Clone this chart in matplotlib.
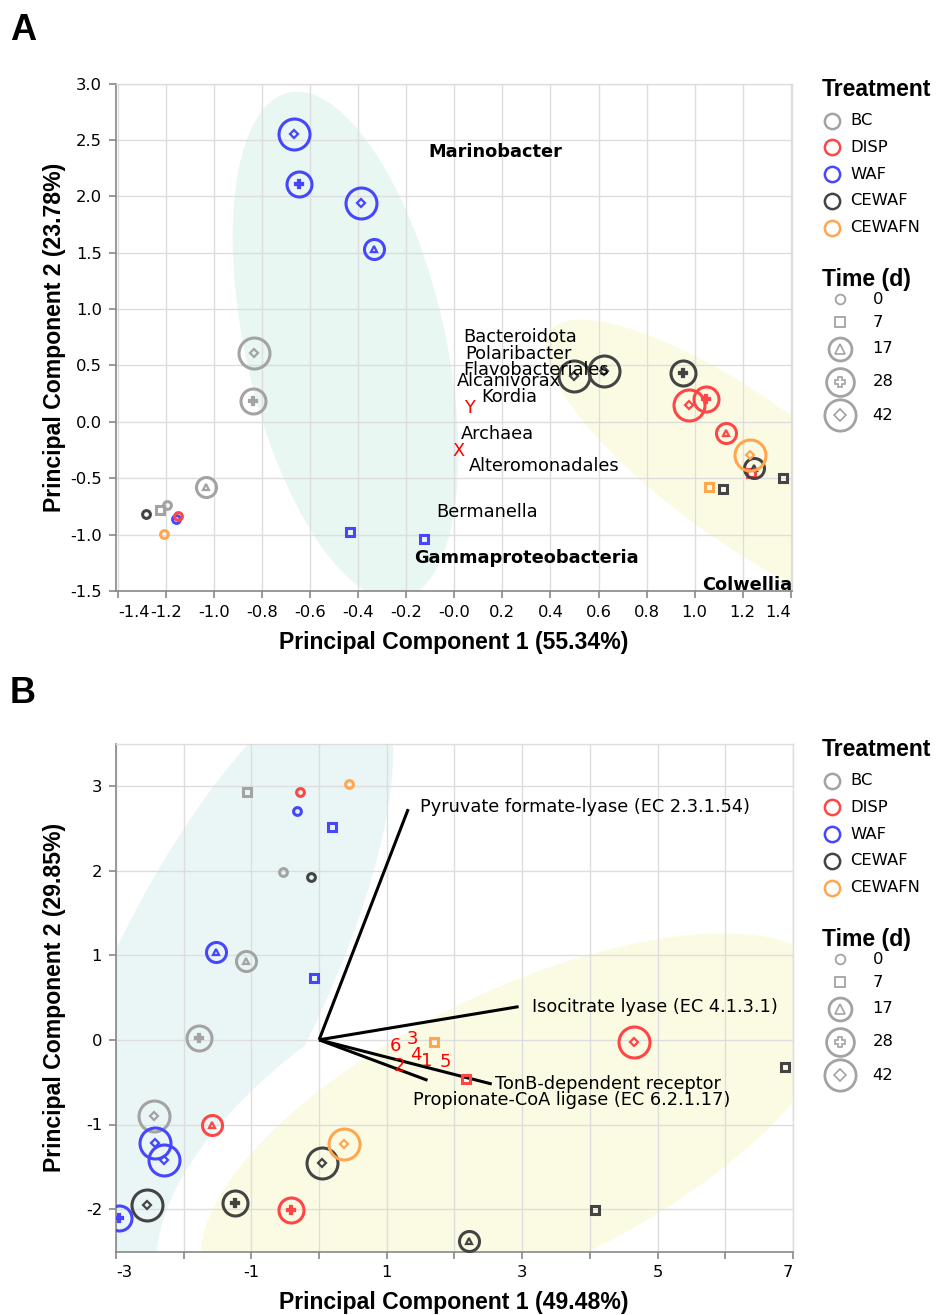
import numpy as np
import matplotlib
matplotlib.use("Agg")
import matplotlib.pyplot as plt
from matplotlib import font_manager

plt.rcParams['axes.unicode_minus'] = False
plt.rcParams['font.family'] = ['DejaVu Sans']

#%% colours / categories
treatments = ["BC", "DISP", "WAF", "CEWAF", "CEWAFN"]
treat_colors = ["#a3a3a3", "#ff4545", "#4646ff", "#444444", "#ffa64f"]
times = [0, 7, 17, 28, 42]

#%% panel A data (taxa PCA)
treat_a = ["WAF", "WAF", "WAF", "WAF", "WAF", "WAF", "WAF",
           "BC", "BC", "BC", "BC", "BC",
           "DISP", "DISP", "DISP", "DISP", "DISP",
           "CEWAF", "CEWAF", "CEWAF", "CEWAF", "CEWAF", "CEWAF", "CEWAF",
           "CEWAFN", "CEWAFN", "CEWAFN"]
time_a = [42, 28, 42, 17, 7, 7, 0,
          42, 28, 17, 7, 0,
          0, 42, 28, 17, 7,
          0, 42, 42, 28, 17, 7, 7,
          0, 42, 7]
pc1_a = [-0.669, -0.647, -0.387, -0.335, -0.435, -0.125, -1.160,
         -0.834, -0.837, -1.032, -1.225, -1.197,
         -1.150, 0.978, 1.047, 1.129, 1.236,
         -1.284, 0.496, 0.621, 0.953, 1.247, 1.117, 1.369,
         -1.208, 1.230, 1.061]
pc2_a = [2.553, 2.109, 1.937, 1.533, -0.979, -1.038, -0.860,
         0.611, 0.181, -0.576, -0.786, -0.741,
         -0.836, 0.145, 0.202, -0.098, -0.457,
         -0.816, 0.403, 0.454, 0.430, -0.407, -0.593, -0.495,
         -0.999, -0.297, -0.575]

taxa_names = ["Marinobacter", "Gammaproteobacteria", "Colwellia",
              "Bacteroidota", "Polaribacter", "Flavobacteriales", "Alcanivorax",
              "Kordia", "Archaea", "Alteromonadales", "Bermanella"]
taxa_x = [-0.108, -0.166, 1.405, 0.036, 0.046, 0.039, 0.011, 0.111, 0.028, 0.059, -0.075]
taxa_y = [2.393, -1.207, -1.450, 0.750, 0.603, 0.460, 0.359, 0.222, -0.104, -0.391, -0.801]
taxa_bold = [True, True, True, False, False, False, False, False, False, False, False]
red_marks_a = ["Y", "X"]
red_marks_a_x = [0.064, 0.018]
red_marks_a_y = [0.127, -0.258]

#%% panel B data (function PCA)
treat_b = ["BC", "BC", "BC", "BC", "BC",
           "DISP", "DISP", "DISP", "DISP", "DISP",
           "WAF", "WAF", "WAF", "WAF", "WAF", "WAF", "WAF",
           "CEWAF", "CEWAF", "CEWAF", "CEWAF", "CEWAF", "CEWAF", "CEWAF",
           "CEWAFN", "CEWAFN", "CEWAFN"]
time_b = [7, 0, 17, 28, 42,
          0, 17, 28, 42, 7,
          0, 7, 7, 17, 42, 42, 28,
          0, 42, 28, 42, 17, 7, 7,
          0, 42, 7]
pc1_b = [-1.069, -0.539, -1.083, -1.778, -2.442,
         -0.275, -1.579, -0.419, 4.650, 2.164,
         -0.321, 0.189, -0.069, -1.527, -2.428, -2.295, -2.959,
         -0.121, -2.541, -1.235, 0.037, 2.217, 4.072, 6.889,
         0.442, 0.375, 1.700]
pc2_b = [2.929, 1.988, 0.933, 0.016, -0.894,
         2.933, -1.000, -2.012, -0.028, -0.459,
         2.702, 2.518, 0.733, 1.035, -1.216, -1.420, -2.106,
         1.918, -1.949, -1.922, -1.451, -2.373, -2.008, -0.322,
         3.020, -1.227, -0.031]

enzymes = ["Pyruvate formate-lyase (EC 2.3.1.54)", "Isocitrate lyase (EC 4.1.3.1)",
           "TonB-dependent receptor", "Propionate-CoA ligase (EC 6.2.1.17)"]
load_x = [1.316, 2.947, 2.550, 1.601]
load_y = [2.725, 0.392, -0.522, -0.478]
enz_label_x = [1.489, 3.139, 2.595, 1.389]
enz_label_y = [2.753, 0.392, -0.522, -0.706]
num_labels = ["6", "3", "4", "1", "5", "2"]
num_x = [1.124, 1.383, 1.423, 1.582, 1.866, 1.190]
num_y = [-0.078, 0.008, -0.176, -0.255, -0.267, -0.306]

# ellipses: centre, semi-axis vector 1, semi-axis vector 2 (data units)
ell_a = [((-0.453, 0.676), (-0.237, 2.242), (0.405, 0.197), "#e8f7f1"),
         ((1.209, -0.436), (0.813, -1.237), (-0.173, -0.522), "#fbfbe3")]
ell_b = [((-1.545, 0.600), (2.232, 3.649), (1.408, -0.546), "#eaf6f6"),
         ((2.968, -1.067), (4.629, 1.793), (0.903, -1.479), "#fbfbe3")]

GRID = "#dddddd"
AXC = "#888888"

# bold condensed title font (fall back to plain Liberation Sans bold)
fnames = {f.name for f in font_manager.fontManager.ttflist}
if 'Liberation Sans Narrow' in fnames:
    TITLE = dict(family='Liberation Sans Narrow', fontweight='bold', fontsize=20)
else:
    TITLE = dict(family='Liberation Sans', fontweight='bold', fontsize=16.6)

outer_ms = {17: 14.4, 28: 18.0, 42: 22.3}
inner_mk = {17: ('^', 5.0), 28: ('P', 6.0), 42: ('D', 4.2)}


def draw_point(ax, x, y, col, t):
    if t == 0:
        ax.plot(x, y, 'o', ms=5.6, mfc='none', mec=col, mew=2.2, zorder=3)
    elif t == 7:
        ax.plot(x, y, 's', ms=6.2, mfc='none', mec=col, mew=2.2, zorder=3)
    else:
        ax.plot(x, y, 'o', ms=outer_ms[t], mfc='none', mec=col, mew=2.2, zorder=3)
        mk, ms = inner_mk[t]
        ax.plot(x, y, mk, ms=ms, mfc='none', mec=col, mew=1.6, zorder=3)


def style_axes(ax):
    ax.set_axisbelow(True)
    ax.grid(True, color=GRID, lw=1)
    for s in ["left", "bottom"]:
        ax.spines[s].set_color(AXC)
        ax.spines[s].set_linewidth(1.2)
    for s in ["top", "right"]:
        ax.spines[s].set_color(GRID)
        ax.spines[s].set_linewidth(1)
    ax.tick_params(length=5, width=1.2, color=AXC, labelsize=11.8, pad=5)


def ellipse_xy(c, v1, v2, k1=1.0, k2=1.0):
    t = np.linspace(0, 2 * np.pi, 300)
    xs = c[0] + k1 * v1[0] * np.cos(t) + k2 * v2[0] * np.sin(t)
    ys = c[1] + k1 * v1[1] * np.cos(t) + k2 * v2[1] * np.sin(t)
    return xs, ys


def draw_ellipses(ax, ells, halo=None):
    # first ellipse at the back, later ones on top; optional white halo
    # round the later ones so they stay separated
    for i, (c, v1, v2, col) in enumerate(ells):
        if halo is not None and i > 0:
            xs, ys = ellipse_xy(c, v1, v2, *halo)
            ax.fill(xs, ys, color='white', lw=0, zorder=0.2 + 0.05 * i - 0.02)
        xs, ys = ellipse_xy(c, v1, v2)
        ax.fill(xs, ys, color=col, lw=0, zorder=0.2 + 0.05 * i)


fig = plt.figure(figsize=(9.37, 13.15), dpi=100)
W, H = 937, 1315

def px_axes(x0, y0, x1, y1):
    return fig.add_axes([x0 / W, 1 - y1 / H, (x1 - x0) / W, (y1 - y0) / H])

#%% panel A
axA = px_axes(116, 83.5, 792, 591)
style_axes(axA)
draw_ellipses(axA, ell_a)
for tr, t, x, y in zip(treat_a, time_a, pc1_a, pc2_a):
    draw_point(axA, x, y, treat_colors[treatments.index(tr)], t)
for name, x, y, b in zip(taxa_names, taxa_x, taxa_y, taxa_bold):
    ha = 'right' if name == "Colwellia" else 'left'
    axA.text(x, y, name, fontsize=12.8, fontweight='bold' if b else 'normal',
             ha=ha, va='center', zorder=4, clip_on=False)
for m, x, y in zip(red_marks_a, red_marks_a_x, red_marks_a_y):
    axA.text(x, y, m, color='red', fontsize=12.8, ha='center', va='center', zorder=4)
axA.set_xlim(-1.408, 1.405)
axA.set_ylim(-1.5, 3.0)
xt = np.round(np.arange(-1.4, 1.41, 0.2), 1)
axA.set_xticks(xt, ["%.1f" % v for v in xt])
yt = np.arange(-1.5, 3.01, 0.5)
axA.set_yticks(yt, ["%.1f" % v for v in yt])
axA.get_xticklabels()[0].set_ha('left')
axA.get_xticklabels()[-1].set_ha('right')

#%% panel B
axB = px_axes(116, 743.5, 793, 1251.5)
style_axes(axB)
draw_ellipses(axB, ell_b, halo=(1.13, 1.33))
for lx, ly in zip(load_x, load_y):
    axB.plot([0, lx], [0, ly], color='black', lw=2.2, zorder=2.5, solid_capstyle='butt')
for tr, t, x, y in zip(treat_b, time_b, pc1_b, pc2_b):
    draw_point(axB, x, y, treat_colors[treatments.index(tr)], t)
for name, x, y in zip(enzymes, enz_label_x, enz_label_y):
    axB.text(x, y, name, fontsize=12.8, ha='left', va='center', zorder=4, clip_on=False)
for n, x, y in zip(num_labels, num_x, num_y):
    axB.text(x, y, n, color='red', fontsize=13, ha='center', va='center', zorder=4)
axB.set_xlim(-3, 7)
axB.set_ylim(-2.5, 3.5)
axB.set_xticks(np.arange(-3, 8), [str(v) if v % 2 else "" for v in range(-3, 8)])
axB.set_yticks(np.arange(-2, 4), [str(v) for v in range(-2, 4)])
axB.get_xticklabels()[0].set_ha('left')
axB.get_xticklabels()[-1].set_ha('right')

#%% overlay: panel letters, axis titles, legends
ov = fig.add_axes([0, 0, 1, 1])
ov.set_xlim(0, W)
ov.set_ylim(H, 0)
ov.axis('off')

ov.text(10, 30, "A", fontsize=26, fontweight='bold', family='Liberation Sans', va='center')
ov.text(10, 693, "B", fontsize=26, fontweight='bold', family='Liberation Sans', va='center')

xtitles = ["Principal Component 1 (55.34%)", "Principal Component 1 (49.48%)"]
ytitles = ["Principal Component 2 (23.78%)", "Principal Component 2 (29.85%)"]
for k, dy in enumerate([0, 660]):
    ov.text(454, 642 + dy, xtitles[k], ha='center', va='center', **TITLE)
    ov.text(55, 337 + dy, ytitles[k], ha='center', va='center', rotation=90, **TITLE)

    # treatment legend
    ov.text(822, 89 + dy, "Treatment", ha='left', va='center', **TITLE)
    for i, (tr, col) in enumerate(zip(treatments, treat_colors)):
        yy = 120.5 + 26.8 * i + dy
        ov.plot(832, yy, 'o', ms=11, mfc='none', mec=col, mew=1.8)
        ov.text(850, yy, tr, fontsize=11.8, ha='left', va='center')

    # time legend
    ov.text(822, 279 + dy, "Time (d)", ha='left', va='center', **TITLE)
    t_y = [299, 322, 348.5, 381.5, 415]
    for t, yy in zip(times, t_y):
        yy = yy + dy
        g = "#a3a3a3"
        if t == 0:
            ov.plot(840.5, yy, 'o', ms=7, mfc='none', mec=g, mew=1.3)
        elif t == 7:
            ov.plot(840.5, yy, 's', ms=7.5, mfc='none', mec=g, mew=1.3)
        else:
            ov.plot(840.5, yy, 'o', ms={17: 16.5, 28: 20.0, 42: 22.5}[t], mfc='none', mec=g, mew=2.0)
            mk, ms = inner_mk[t]
            ov.plot(840.5, yy, mk, ms=ms + 1.5, mfc='none', mec=g, mew=1.2)
        ov.text(872.5, yy, str(t), fontsize=11.8, ha='left', va='center')

fig.savefig("out.png", dpi=100)
